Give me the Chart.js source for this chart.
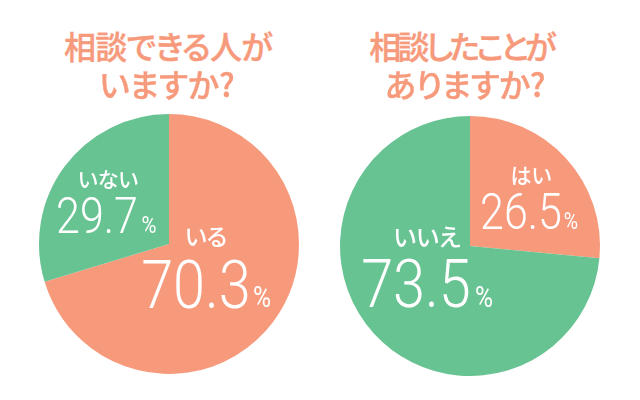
<!DOCTYPE html>
<html>
<head>
<meta charset="utf-8">
<script src="https://cdn.jsdelivr.net/npm/chart.js@4"></script>
<style>
html, body { margin: 0; padding: 0; background: #fff; }
#wrap { position: relative; width: 640px; height: 400px; overflow: hidden; }
canvas { position: absolute; }
.t { position: absolute; white-space: nowrap; font-family: "Noto Sans CJK JP", sans-serif; line-height: 1; transform: translate(-50%, -50%); font-feature-settings: "palt"; }
.title { color: #f79a7c; font-size: 32px; font-weight: 500; text-align: center; line-height: 1; -webkit-text-stroke: 0.4px #f79a7c; }
.lab { color: #fff; font-weight: 500; }
.val { color: #fff; font-family: Roboto, sans-serif; font-weight: 300; transform: translate(-50%, -50%) scaleX(0.86); }
.pct { color: #fff; font-family: Roboto, sans-serif; font-weight: 400; transform: translate(-50%, -50%) scaleX(0.85); }
</style>
</head>
<body>
<div id="wrap">
  <canvas id="left" style="left:29px;top:104px" width="280" height="280"></canvas>
  <canvas id="right" style="left:329.5px;top:106px" width="280" height="280"></canvas>
</div>
<script>
const COLORS = { orange: '#f79a7c', green: '#68c392' };

const leftLabels = ['いる', 'いない'];
const leftValues = [70.3, 29.7];
const leftColors = [COLORS.orange, COLORS.green];

const rightLabels = ['はい', 'いいえ'];
const rightValues = [26.5, 73.5];
const rightColors = [COLORS.orange, COLORS.green];

function makePie(id, labels, values, colors) {
    new Chart(document.getElementById(id), {
        type: 'pie',
        data: { labels: labels, datasets: [{ data: values, backgroundColor: colors, borderWidth: 0 }] },
        options: {
            responsive: false,
            animation: false,
            layout: { padding: 10 },
            plugins: { legend: { display: false }, tooltip: { enabled: false } }
        }
    });
}

makePie('left', leftLabels, leftValues, leftColors);
makePie('right', rightLabels, rightValues, rightColors);

//text on top of the pies, all positions are centers
function addText(cls, x, y, text, size, spacing) {
    let el = document.createElement('div');
    el.className = 't ' + cls;
    el.style.left = x + 'px';
    el.style.top = y + 'px';
    if (size) el.style.fontSize = size + 'px';
    if (spacing) el.style.letterSpacing = spacing + 'px';
    el.textContent = text;
    document.getElementById('wrap').append(el);
}

addText('title', 168, 45, '相談できる人が', 32, -0.7);
addText('title', 167, 83, 'いますか?');
addText('title', 461, 45, '相談したことが', 32, -3.6);
addText('title', 465, 83, 'ありますか?', 32, -0.5);

addText('lab', 108, 178, leftLabels[1], 21);
addText('val', 97, 216, leftValues[1].toFixed(1), 50);
addText('pct', 149, 225, '%', 24);
addText('lab', 206, 235, leftLabels[0], 23);
addText('val', 196, 285, leftValues[0].toFixed(1), 67);
addText('pct', 262, 297, '%', 29);

addText('lab', 531, 174, rightLabels[0], 21);
addText('val', 521, 212, rightValues[0].toFixed(1), 50);
addText('pct', 571, 221, '%', 23);
addText('lab', 427, 236, rightLabels[1], 24);
addText('val', 416, 284, rightValues[1].toFixed(1), 67);
addText('pct', 484, 297, '%', 29);
</script>
</body>
</html>
